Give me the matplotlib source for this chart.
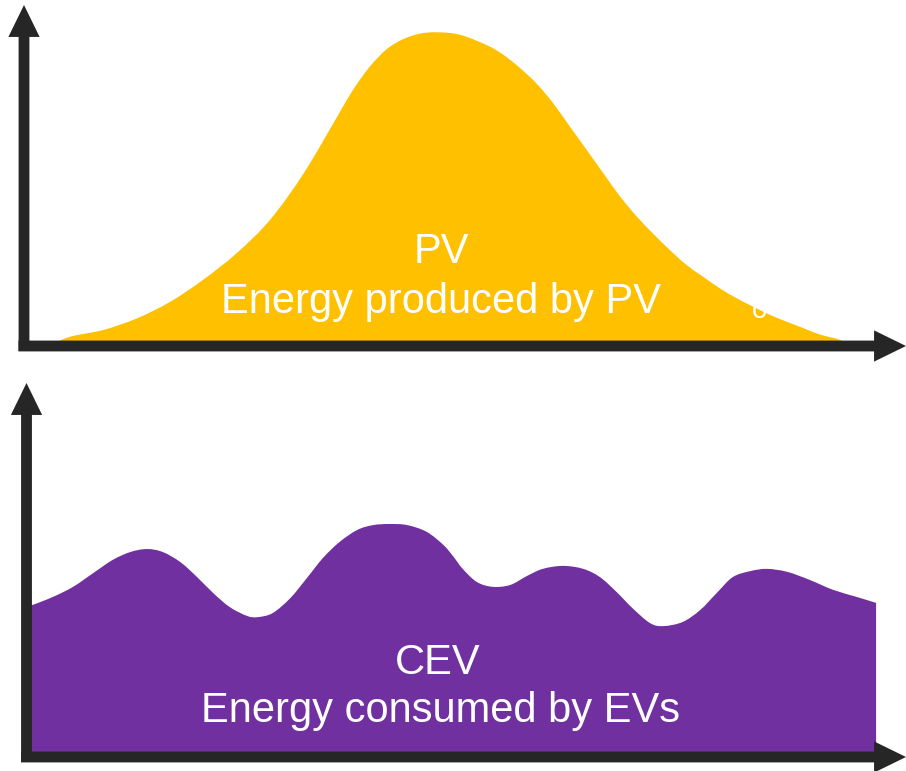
import matplotlib
matplotlib.use("Agg")
import matplotlib.pyplot as plt
from matplotlib.patches import ArrowStyle, PathPatch
from matplotlib.path import Path

# ---- data (time in % of period, energy in % of scale) ----
pv_time = [2.8, 5.2, 9.0, 12.8, 16.6, 20.3, 24.1, 27.9, 31.7, 35.5, 37.3, 39.2,
           41.1, 43.0, 44.9, 46.8, 49.4, 52.5, 54.3, 56.2, 58.1, 60.0, 61.9,
           63.8, 65.7, 67.6, 69.5, 71.3, 73.2, 75.1, 77.0, 78.9, 80.8, 82.7,
           84.6, 86.5, 88.4, 90.2, 92.5, 93.5]
pv_energy = [0.0, 2.7, 4.7, 8.1, 13.0, 19.4, 27.2, 37.0, 50.6, 67.2, 75.1, 81.9,
             87.0, 90.0, 91.6, 92.0, 91.3, 88.2, 85.5, 81.6, 77.0, 71.2, 64.3,
             57.5, 50.6, 43.8, 37.9, 33.0, 28.2, 23.8, 20.3, 16.9, 14.0, 11.5,
             9.1, 7.1, 5.2, 3.4, 1.8, 0.0]

ev_time = [0.0, 0.6, 3.0, 5.3, 7.6, 9.8, 11.8, 13.7, 15.5, 17.5, 19.4, 21.2,
           23.1, 25.1, 26.3, 28.0, 30.0, 31.9, 33.7, 35.6, 37.6, 39.4, 41.3,
           43.3, 45.5, 47.4, 48.5, 49.6, 51.2, 53.0, 55.0, 56.9, 58.7, 61.0,
           63.3, 65.2, 67.1, 68.9, 70.9, 72.4, 74.6, 76.6, 78.5, 80.3, 82.3,
           84.2, 86.5, 89.1, 91.7, 94.4, 96.6]
ev_energy = [40.6, 40.6, 42.8, 45.5, 49.2, 52.7, 54.8, 55.6, 54.8, 52.1, 48.1,
             43.9, 40.1, 37.7, 37.4, 38.5, 42.5, 47.9, 53.2, 57.5, 60.7, 62.0,
             62.3, 62.0, 60.2, 56.7, 53.7, 50.3, 46.8, 45.5, 46.0, 48.4, 50.3,
             51.1, 50.3, 48.1, 44.1, 39.8, 35.8, 35.0, 36.1, 39.3, 43.9, 48.1,
             49.7, 50.3, 49.5, 47.3, 44.7, 42.8, 41.2]

pv_labels = ["PV", "Energy produced by PV"]
ev_labels = ["CEV", "Energy consumed by EVs"]

YELLOW = "#FFC000"
PURPLE = "#7030A0"
AXCOL = "#262626"
FONT = ["Liberation Sans", "DejaVu Sans"]

W, H = 906, 771
fig = plt.figure(figsize=(W / 100, H / 100), dpi=100)


def add_panel(left_px, bottom_px, right_px, top_px):
    ax = fig.add_axes([left_px / W, (H - bottom_px) / H,
                       (right_px - left_px) / W, (bottom_px - top_px) / H])
    ax.set_xlim(0, 100)
    ax.set_ylim(0, 100)
    ax.set_axis_off()
    return ax


def smooth_area(ax, xs, ys, color):
    """Filled area under a smoothed line through the data points
    (Catmull-Rom curve rendered as cubic Bezier segments)."""
    pts = list(zip(xs, ys))
    n = len(pts)
    verts = [(xs[0], 0.0), pts[0]]
    codes = [Path.MOVETO, Path.LINETO]
    for i in range(n - 1):
        p0 = pts[i - 1] if i > 0 else pts[i]
        p1 = pts[i]
        p2 = pts[i + 1]
        p3 = pts[i + 2] if i + 2 < n else pts[i + 1]
        c1 = (p1[0] + (p2[0] - p0[0]) / 6.0, p1[1] + (p2[1] - p0[1]) / 6.0)
        c2 = (p2[0] - (p3[0] - p1[0]) / 6.0, p2[1] - (p3[1] - p1[1]) / 6.0)
        verts += [c1, c2, p2]
        codes += [Path.CURVE4] * 3
    verts += [(xs[-1], 0.0), (xs[0], 0.0)]
    codes += [Path.LINETO, Path.CLOSEPOLY]
    ax.add_patch(PathPatch(Path(verts, codes), facecolor=color, lw=0,
                           zorder=1))


def draw_axes_arrows(ax, vstart, hstart):
    style = ArrowStyle.Simple(head_length=23, head_width=22.5, tail_width=7.8)
    props = dict(arrowstyle=style, mutation_scale=1, lw=0, color=AXCOL,
                 shrinkA=0, shrinkB=0)
    ax.annotate("", xy=(0, 1), xytext=(0, vstart), xycoords="axes fraction",
                textcoords="axes fraction", arrowprops=props,
                annotation_clip=False)
    ax.annotate("", xy=(1, 0), xytext=(hstart, 0), xycoords="axes fraction",
                textcoords="axes fraction", arrowprops=props,
                annotation_clip=False)


# top panel: PV production
ax1 = add_panel(24, 346, 906, 5)
smooth_area(ax1, pv_time, pv_energy, YELLOW)
ax1.text(47.3, 24.3, pv_labels[0], ha="center", va="baseline", fontsize=30,
         color="white", family=FONT, zorder=3)
ax1.text(47.3, 9.7, pv_labels[1], ha="center", va="baseline", fontsize=30,
         color="white", family=FONT, zorder=3)
ax1.text(83.4, 8.3, "o", ha="center", va="baseline", fontsize=20,
         color="white", family=FONT, zorder=2)
draw_axes_arrows(ax1, -5 / 341, -5.5 / 882)

# bottom panel: EV consumption
ax2 = add_panel(26.5, 757, 906, 383)
smooth_area(ax2, ev_time, ev_energy, PURPLE)
ax2.text(46.8, 22.2, ev_labels[0], ha="center", va="baseline", fontsize=30,
         color="white", family=FONT, zorder=3)
ax2.text(47.1, 9.4, ev_labels[1], ha="center", va="baseline", fontsize=30,
         color="white", family=FONT, zorder=3)
draw_axes_arrows(ax2, -5 / 374, -5.5 / 879.5)

fig.savefig("out.png", dpi=100)
